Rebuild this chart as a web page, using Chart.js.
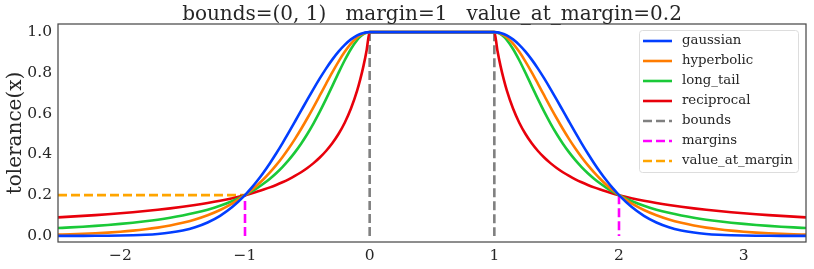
<!DOCTYPE html>
<html>
<head>
<meta charset="utf-8">
<script src="https://cdn.jsdelivr.net/npm/chart.js@4.4.0/dist/chart.umd.min.js"></script>
<style>
  html, body { margin: 0; padding: 0; background: #fff; }
  #wrap { width: 814px; height: 269px; }
</style>
</head>
<body>
<div id="wrap"><canvas id="chart"></canvas></div>
<script>
// x positions of the curve samples (left side, plateau ends, right side)
const xValues = [
  -2.5, -2.4, -2.3, -2.2, -2.1, -2.0, -1.9, -1.8, -1.7, -1.6, -1.5, -1.4, -1.3, -1.2, -1.1, -1.0,
  -0.95, -0.9, -0.85, -0.8, -0.75, -0.7, -0.65, -0.6, -0.55, -0.5, -0.45, -0.4, -0.35, -0.3,
  -0.25, -0.2, -0.15, -0.1, -0.075, -0.05, -0.025, 0,
  1, 1.025, 1.05, 1.075, 1.1, 1.15, 1.2, 1.25, 1.3, 1.35, 1.4, 1.45, 1.5, 1.55, 1.6, 1.65,
  1.7, 1.75, 1.8, 1.85, 1.9, 1.95, 2.0, 2.1, 2.2, 2.3, 2.4, 2.5, 2.6, 2.7, 2.8, 2.9,
  3.0, 3.1, 3.2, 3.3, 3.4, 3.5
]

const gaussian = [
  0.00004, 0.00009, 0.0002, 0.00041, 0.00083, 0.0016, 0.003, 0.00544, 0.00955, 0.01624, 0.02675,
  0.04267, 0.06589, 0.09852, 0.14265, 0.2, 0.23398, 0.27155, 0.31259, 0.35698, 0.40443, 0.45446,
  0.50662, 0.56023, 0.61455, 0.66874, 0.72185, 0.77298, 0.82106, 0.86515, 0.9043, 0.93765,
  0.96444, 0.98403, 0.99099, 0.99598, 0.99899, 1,
  1, 0.99899, 0.99598, 0.99099, 0.98403, 0.96444, 0.93765, 0.9043, 0.86515, 0.82106, 0.77298,
  0.72185, 0.66874, 0.61455, 0.56023, 0.50662, 0.45446, 0.40443, 0.35698, 0.31259, 0.27155,
  0.23398, 0.2, 0.14265, 0.09852, 0.06589, 0.04267, 0.02675, 0.01624, 0.00955, 0.00544, 0.003,
  0.0016, 0.00083, 0.00041, 0.0002, 0.00009, 0.00004
]

const hyperbolic = [
  0.00649, 0.00816, 0.01026, 0.0129, 0.01623, 0.02041, 0.02566, 0.03227, 0.04058, 0.05103,
  0.06415, 0.08063, 0.10131, 0.12722, 0.15962, 0.2, 0.22371, 0.25006, 0.27929, 0.31161, 0.34723,
  0.3863, 0.42892, 0.4751, 0.52469, 0.57735, 0.63252, 0.68932, 0.74653, 0.8026, 0.8556, 0.90338,
  0.94366, 0.97429, 0.9854, 0.99347, 0.99836, 1,
  1, 0.99836, 0.99347, 0.9854, 0.97429, 0.94366, 0.90338, 0.8556, 0.8026, 0.74653, 0.68932,
  0.63252, 0.57735, 0.52469, 0.4751, 0.42892, 0.3863, 0.34723, 0.31161, 0.27929, 0.25006,
  0.22371, 0.2, 0.15962, 0.12722, 0.10131, 0.08063, 0.06415, 0.05103, 0.04058, 0.03227, 0.02566,
  0.02041, 0.01623, 0.0129, 0.01026, 0.00816, 0.00649
]

const longTail = [
  0.03846, 0.0416, 0.04513, 0.04912, 0.05365, 0.05882, 0.06477, 0.07163, 0.07962, 0.08897, 0.1,
  0.11312, 0.12887, 0.14793, 0.17123, 0.2, 0.21692, 0.23585, 0.25707, 0.2809, 0.30769, 0.33784,
  0.37175, 0.40984, 0.45249, 0.5, 0.55249, 0.60976, 0.67114, 0.73529, 0.8, 0.86207, 0.91743,
  0.96154, 0.978, 0.9901, 0.99751, 1,
  1, 0.99751, 0.9901, 0.978, 0.96154, 0.91743, 0.86207, 0.8, 0.73529, 0.67114, 0.60976,
  0.55249, 0.5, 0.45249, 0.40984, 0.37175, 0.33784, 0.30769, 0.2809, 0.25707, 0.23585,
  0.21692, 0.2, 0.17123, 0.14793, 0.12887, 0.11312, 0.1, 0.08897, 0.07962, 0.07163, 0.06477,
  0.05882, 0.05365, 0.04912, 0.04513, 0.0416, 0.03846
]

const reciprocal = [
  0.09091, 0.09434, 0.09804, 0.10204, 0.10638, 0.11111, 0.11628, 0.12195, 0.12821, 0.13514,
  0.14286, 0.15152, 0.16129, 0.17241, 0.18519, 0.2, 0.20833, 0.21739, 0.22727, 0.2381, 0.25,
  0.26316, 0.27778, 0.29412, 0.3125, 0.33333, 0.35714, 0.38462, 0.41667, 0.45455, 0.5, 0.55556,
  0.625, 0.71429, 0.76923, 0.83333, 0.90909, 1,
  1, 0.90909, 0.83333, 0.76923, 0.71429, 0.625, 0.55556, 0.5, 0.45455, 0.41667, 0.38462,
  0.35714, 0.33333, 0.3125, 0.29412, 0.27778, 0.26316, 0.25, 0.2381, 0.22727, 0.21739,
  0.20833, 0.2, 0.18519, 0.17241, 0.16129, 0.15152, 0.14286, 0.13514, 0.12821, 0.12195, 0.11628,
  0.11111, 0.10638, 0.10204, 0.09804, 0.09434, 0.09091
]

// reference lines
const boundsX = [0, 0, 0.5, 1, 1]
const boundsY = [0, 1, null, 1, 0]
const marginsX = [-1, -1, 0.5, 2, 2]
const marginsY = [0, 0.2, null, 0.2, 0]
const valueAtMarginX = [-2.5, -1]
const valueAtMarginY = [0.2, 0.2]

const xTicks = [-2, -1, 0, 1, 2, 3]
const yTicks = [0, 0.2, 0.4, 0.6, 0.8, 1.0]

const titleText = 'bounds=(0, 1)   margin=1   value_at_margin=0.2'

const toPoints = (xs, ys) => xs.map((x, i) => ({ x: x, y: ys[i] }))

const serif = "'DejaVu Serif', serif"

const curve = (label, ys, color) => ({
    label: label,
    data: toPoints(xValues, ys),
    borderColor: color,
    backgroundColor: color,
    borderWidth: 2.6,
    pointRadius: 0,
    cubicInterpolationMode: 'monotone',
    order: 1
})
const dashed = (label, xs, ys, color) => ({
    label: label,
    data: toPoints(xs, ys),
    borderColor: color,
    backgroundColor: color,
    borderWidth: 2.6,
    borderDash: [9, 4],
    pointRadius: 0,
    spanGaps: false,
    tension: 0,
    order: 2
})

// legend drawn inside the plot, upper right
const boxLegend = {
    id: 'boxLegend',
    afterDraw(chart) {
        const ctx = chart.ctx
        const area = chart.chartArea
        const sets = chart.data.datasets
        const w = 159, h = 142
        const left = area.right - 8 - w, top = area.top + 6
        ctx.save()
        ctx.fillStyle = 'rgba(255,255,255,0.85)'
        ctx.strokeStyle = '#dddddd'
        ctx.lineWidth = 1
        ctx.beginPath()
        ctx.roundRect(left + 0.5, top + 0.5, w, h, 3)
        ctx.fill()
        ctx.stroke()
        ctx.font = '13.3px ' + serif
        ctx.textBaseline = 'middle'
        sets.forEach((ds, i) => {
            const y = top + 11 + i * 20
            ctx.strokeStyle = ds.borderColor
            ctx.lineWidth = 2.6
            ctx.setLineDash(ds.borderDash ? [9, 4] : [])
            ctx.beginPath()
            ctx.moveTo(left + 4, y)
            ctx.lineTo(left + 33, y)
            ctx.stroke()
            ctx.setLineDash([])
            ctx.fillStyle = '#262626'
            ctx.fillText(ds.label, left + 43, y)
        })
        ctx.restore()
    }
}

// frame around the plot area + title centred over it
const frame = {
    id: 'frame',
    afterDatasetsDraw(chart) {
        const a = chart.chartArea
        const ctx = chart.ctx
        ctx.save()
        ctx.strokeStyle = '#4a4a4a'
        ctx.lineWidth = 1.25
        ctx.strokeRect(a.left, a.top, a.right - a.left, a.bottom - a.top)
        ctx.fillStyle = '#262626'
        ctx.font = '20px ' + serif
        ctx.textAlign = 'center'
        ctx.textBaseline = 'alphabetic'
        ctx.fillText(titleText, (a.left + a.right) / 2, a.top - 4)
        ctx.restore()
    }
}

const chart = new Chart(document.getElementById('chart'), {
    type: 'line',
    data: {
        datasets: [
            curve('gaussian', gaussian, '#023eff'),
            curve('hyperbolic', hyperbolic, '#ff7c00'),
            curve('long_tail', longTail, '#1ac938'),
            curve('reciprocal', reciprocal, '#e8000b'),
            dashed('bounds', boundsX, boundsY, '#808080'),
            dashed('margins', marginsX, marginsY, '#ff00ff'),
            dashed('value_at_margin', valueAtMarginX, valueAtMarginY, '#ffa500')
        ]
    },
    options: {
        responsive: true,
        maintainAspectRatio: false,
        animation: false,
        layout: { padding: { left: 0, right: 8, top: 24, bottom: 0 } },
        scales: {
            x: {
                type: 'linear',
                min: -2.5,
                max: 3.5,
                afterBuildTicks: s => { s.ticks = xTicks.map(v => ({ value: v })) },
                afterFit: s => { s.height = 27 },
                grid: { display: false, drawTicks: false },
                border: { display: false },
                ticks: {
                    padding: 5,
                    color: '#262626',
                    font: { family: serif, size: 15.5 },
                    callback: v => String(v).replace('-', '\u2212')
                }
            },
            y: {
                min: -0.03,
                max: 1.04,
                afterBuildTicks: s => { s.ticks = yTicks.map(v => ({ value: v })) },
                afterFit: s => { s.width = 58 },
                grid: { display: false, drawTicks: false },
                border: { display: false },
                title: {
                    display: true,
                    text: 'tolerance(x)',
                    color: '#262626',
                    font: { family: serif, size: 20 },
                    padding: { top: 4, bottom: 0 }
                },
                ticks: {
                    padding: 6,
                    color: '#262626',
                    font: { family: serif, size: 15.5 },
                    callback: v => v.toFixed(1)
                }
            }
        },
        plugins: {
            legend: { display: false },
            tooltip: { enabled: false },
            title: { display: false }
        }
    },
    plugins: [frame, boxLegend]
})
</script>
</body>
</html>
